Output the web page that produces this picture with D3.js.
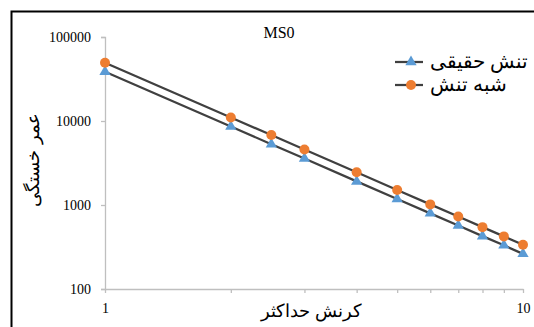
<!DOCTYPE html>
<html><head><meta charset="utf-8">
<script src="https://cdn.jsdelivr.net/npm/d3@7/dist/d3.min.js"></script>
<style>body{margin:0;background:#fff}svg{display:block}</style>
</head><body>
<svg id="c" width="534" height="327"></svg>
<script>
const strain = [1, 2, 2.5, 3, 4, 5, 6, 7, 8, 9, 10];
const trueStress = [38600, 8600, 5300, 3570, 1910, 1180, 795, 570, 426, 331, 262];
const pseudoStress = [49400, 11000, 6800, 4570, 2450, 1510, 1017, 728, 545, 423, 336];
const yTicks = [100, 1000, 10000, 100000];
const xTickLabels = [1, 10];
const xMinorTicks = [1, 2, 3, 4, 5, 6, 7, 8, 9, 10];
const seriesNames = ["تنش حقیقی", "شبه تنش"];

const svg = d3.select("#c");
svg.append("rect").attr("x", 11.5).attr("y", 11.5).attr("width", 540).attr("height", 340)
  .attr("fill", "#fff").attr("stroke", "#000").attr("stroke-width", 2);

const x = d3.scaleLog().domain([1, 10]).range([105, 523]);
const y = d3.scaleLog().domain([100, 100000]).range([289, 37]);

// y axis
const gy = svg.append("g").attr("transform", "translate(105,0)")
  .call(d3.axisLeft(y).tickValues(yTicks).tickFormat(d3.format("d")).tickSize(4).tickPadding(10));
gy.select(".domain").attr("stroke", "#BFBFBF").attr("stroke-width", 1.3);
gy.selectAll(".tick line").attr("stroke", "#BFBFBF").attr("stroke-width", 1.3);
gy.selectAll("text").attr("font-family", "Liberation Serif").attr("font-size", 14).attr("fill", "#000");

// x axis
const gx = svg.append("g").attr("transform", "translate(0,289)")
  .call(d3.axisBottom(x).tickValues(xMinorTicks).tickFormat(d => xTickLabels.includes(d) ? d : "").tickSize(4).tickPadding(10).tickSizeOuter(0));
gx.select(".domain").attr("stroke", "#BFBFBF").attr("stroke-width", 1.3);
gx.selectAll(".tick line").attr("stroke", "#BFBFBF").attr("stroke-width", 1.3);
gx.selectAll("text").attr("font-family", "Liberation Serif").attr("font-size", 14).attr("fill", "#000");

const line = d3.line().x((d, i) => x(strain[i])).y(d => y(d));
[trueStress, pseudoStress].forEach(s => {
  svg.append("path").datum(s).attr("d", line).attr("fill", "none")
    .attr("stroke", "#404040").attr("stroke-width", 2.25);
});

const tri = d3.symbol().type(d3.symbolTriangle).size(55);
svg.append("g").selectAll("path").data(trueStress).join("path")
  .attr("d", tri).attr("transform", (d, i) => `translate(${x(strain[i])},${y(d)})`)
  .attr("fill", "#5B9BD5");
svg.append("g").selectAll("circle").data(pseudoStress).join("circle")
  .attr("cx", (d, i) => x(strain[i])).attr("cy", d => y(d)).attr("r", 5)
  .attr("fill", "#ED7D31");

// title
svg.append("text").attr("x", 279).attr("y", 38).attr("text-anchor", "middle")
  .attr("font-family", "Liberation Serif").attr("font-size", 16).text("MS0");

// legend
const colors = ["#5B9BD5", "#ED7D31"];
seriesNames.forEach((n, i) => {
  const yy = 62 + i * 23;
  svg.append("line").attr("x1", 395).attr("x2", 423).attr("y1", yy).attr("y2", yy)
    .attr("stroke", "#404040").attr("stroke-width", 2.25);
  if (i === 0) svg.append("path").attr("d", tri).attr("transform", `translate(411,${yy})`).attr("fill", colors[0]);
  else svg.append("circle").attr("cx", 411).attr("cy", yy).attr("r", 5).attr("fill", colors[1]);
  svg.append("text").attr("x", 430).attr("y", yy + 6).attr("font-family", "Liberation Sans")
    .attr("font-size", 19.5).text(n);
});

// axis titles
svg.append("text").attr("x", 312).attr("y", 317).attr("text-anchor", "middle")
  .attr("font-family", "Liberation Sans").attr("font-size", 18).text("کرنش حداکثر");
svg.append("text").attr("transform", "translate(39,160) rotate(-90)").attr("text-anchor", "middle")
  .attr("font-family", "Liberation Sans").attr("font-size", 18).text("عمر خستگی");
</script>
</body></html>
